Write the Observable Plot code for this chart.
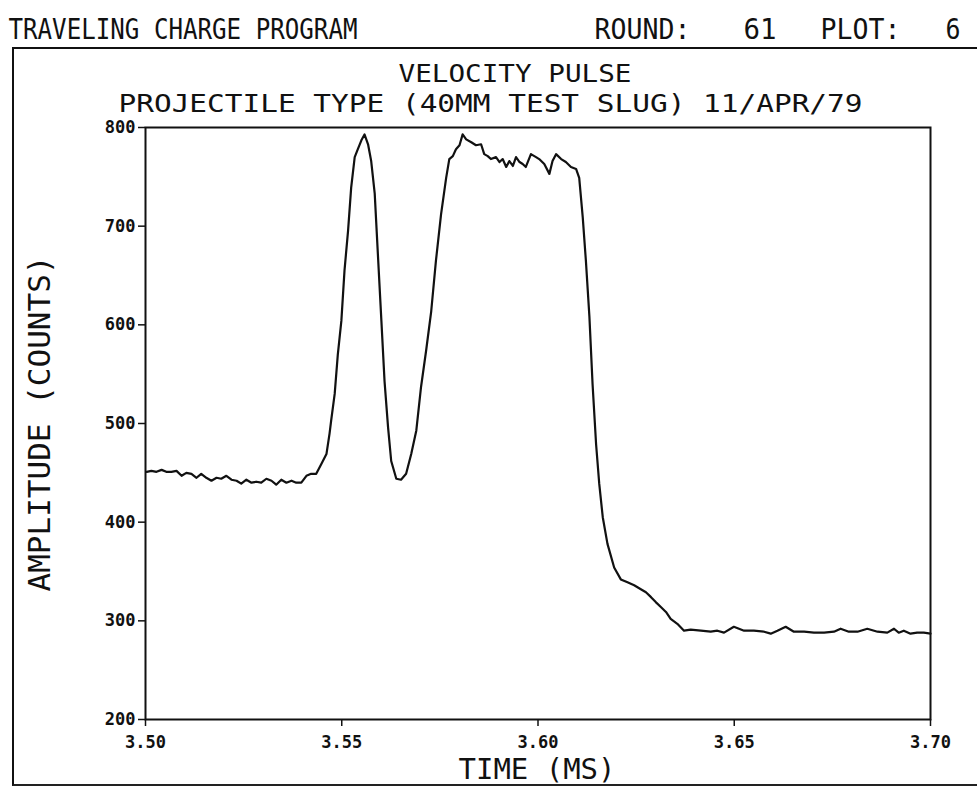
<!DOCTYPE html>
<html>
<head>
<meta charset="utf-8">
<script src="https://cdn.jsdelivr.net/npm/d3@7"></script>
<script src="https://cdn.jsdelivr.net/npm/@observablehq/plot@0.6"></script>
<style>
  html, body { margin: 0; padding: 0; background: #fff; }
  #page { position: relative; width: 977px; height: 789px; overflow: hidden; }
  #box { position: absolute; left: 12px; top: 47px; width: 980px; height: 735px;
         border-left: 2px solid #111; border-top: 2px solid #111; border-bottom: 2px solid #222; }
  #chart { position: absolute; left: 0; top: 0; }
</style>
</head>
<body>
<div id="page"><div id="box"></div><div id="chart"></div></div>
<script>
// ---- data ----
const time = [
  3.5003,3.5015,3.5028,3.5041,3.5053,3.5066,3.5079,3.5092,3.5104,3.5117,3.5130,3.5142,3.5155,3.5168,3.5181,3.5193,
  3.5206,3.5219,3.5232,3.5244,3.5257,3.5270,3.5282,3.5295,3.5308,3.5321,3.5333,3.5346,3.5359,3.5372,3.5384,3.5397,
  3.5410,3.5422,3.5435,3.5448,3.5461,3.5469,3.5473,3.5482,3.5490,3.5499,3.5507,3.5516,3.5524,3.5533,3.5541,3.5550,
  3.5558,3.5567,3.5575,3.5584,3.5592,3.5601,3.5609,3.5618,3.5626,3.5639,3.5651,3.5664,3.5677,3.5690,3.5702,3.5715,
  3.5728,3.5740,3.5753,3.5766,3.5774,3.5783,3.5791,3.5800,3.5808,3.5817,3.5830,3.5842,3.5855,3.5863,3.5872,3.5880,
  3.5893,3.5902,3.5910,3.5919,3.5927,3.5936,3.5944,3.5953,3.5961,3.5969,3.5982,3.5995,3.6003,3.6016,3.6029,3.6037,
  3.6046,3.6059,3.6071,3.6084,3.6097,3.6105,3.6114,3.6122,3.6131,3.6139,3.6148,3.6156,3.6165,3.6177,3.6194,3.6211,
  3.6228,3.6245,3.6262,3.6275,3.6288,3.6300,3.6313,3.6326,3.6338,3.6355,3.6372,3.6389,3.6415,3.6440,3.6457,3.6474,
  3.6499,3.6525,3.6550,3.6576,3.6593,3.6610,3.6631,3.6652,3.6678,3.6703,3.6729,3.6754,3.6771,3.6792,3.6814,3.6839,
  3.6865,3.6890,3.6907,3.6919,3.6932,3.6949,3.6966,3.6983,3.7000
];
const amplitude = [
  451,452,451,453,451,451,452,447,450,449,445,449,445,442,445,444,
  447,443,442,439,443,440,441,440,444,442,438,443,440,442,440,440,
  447,449,449,459,469,490,503,530,570,604,655,695,739,770,778,787,
  793,783,766,733,672,604,543,496,462,444,443,449,469,493,537,574,
  614,665,712,749,768,771,778,782,793,788,785,782,783,773,771,768,
  770,765,768,760,766,761,770,765,763,760,773,770,768,763,753,766,
  773,768,765,760,758,749,709,665,608,540,479,439,405,378,354,342,
  339,336,332,329,324,319,314,309,302,297,290,291,290,289,290,288,
  294,290,290,289,287,290,294,289,289,288,288,289,292,289,289,292,
  289,288,292,288,290,287,288,288,287
];
const xTicks = [3.50, 3.55, 3.60, 3.65, 3.70];
const yTicks = [200, 300, 400, 500, 600, 700, 800];
const headerLeft = "TRAVELING CHARGE PROGRAM";
const headerRight = ["ROUND:", "61", "PLOT:", "6"];
const title = "VELOCITY PULSE";
const subtitle = "PROJECTILE TYPE (40MM TEST SLUG) 11/APR/79";
const xLabel = "TIME (MS)";
const yLabel = "AMPLITUDE (COUNTS)";

const rows = time.map((t, i) => ({t, v: amplitude[i]}));

// ---- layout / style ----
const FONT = "'DejaVu Sans Mono', monospace";
const big = {fontSize: 29, fontWeight: "normal", fill: "#111", lineAnchor: "middle"};
const txt = (s, opts) => Plot.text([s], {text: d => d, ...big, ...opts});

const chart = Plot.plot({
  width: 977,
  height: 789,
  marginLeft: 145,
  marginRight: 47,
  marginTop: 127,
  marginBottom: 70,
  style: {fontFamily: FONT, fontSize: "17px", fontWeight: "bold", color: "#111", background: "transparent"},
  x: {domain: [3.5, 3.7]},
  y: {domain: [200, 800]},
  marks: [
    Plot.frame({stroke: "#111", strokeWidth: 2}),
    Plot.axisX({ticks: xTicks, tickFormat: d3.format(".2f"), tickSize: 7, tickPadding: 9, label: null, strokeWidth: 1.5}),
    Plot.axisY({ticks: yTicks, tickFormat: d3.format("d"), tickSize: 7, tickPadding: 3, label: null, strokeWidth: 1.5}),
    Plot.line(rows, {x: "t", y: "v", stroke: "#111", strokeWidth: 2.2, strokeLinejoin: "round"}),
    txt(headerLeft, {frameAnchor: "top-left", textAnchor: "start", dx: -137, dy: -97.5}),
    txt(headerRight[0], {frameAnchor: "top-left", textAnchor: "start", dx: 449, dy: -97.5}),
    txt(headerRight[1], {frameAnchor: "top-left", textAnchor: "start", dx: 598, dy: -97.5}),
    txt(headerRight[2], {frameAnchor: "top-left", textAnchor: "start", dx: 675, dy: -97.5}),
    txt(headerRight[3], {frameAnchor: "top-left", textAnchor: "start", dx: 800, dy: -97.5}),
    txt(title, {frameAnchor: "top", dx: -23, dy: -53.5, fontSize: 25}),
    txt(subtitle, {frameAnchor: "top", dx: -47.5, dy: -24, fontSize: 25}),
    txt(xLabel, {frameAnchor: "bottom", dx: -1, dy: 50}),
    txt(yLabel, {frameAnchor: "left", textAnchor: "middle", dx: -105, dy: 0, rotate: -90, fontSize: 31})
  ]
});

// fit plotter-style lettering to the measured widths
const fit = new Map([
  [headerLeft, 349], ["ROUND:", 96], ["61", 33], ["PLOT:", 80], ["6", 15],
  [title, 233], [subtitle, 744], [xLabel, 157]
]);
chart.querySelectorAll("text").forEach(t => {
  const w = fit.get(t.textContent);
  if (w) { t.setAttribute("textLength", w); t.setAttribute("lengthAdjust", "spacingAndGlyphs"); }
});
document.getElementById("chart").appendChild(chart);
</script>
</body>
</html>
